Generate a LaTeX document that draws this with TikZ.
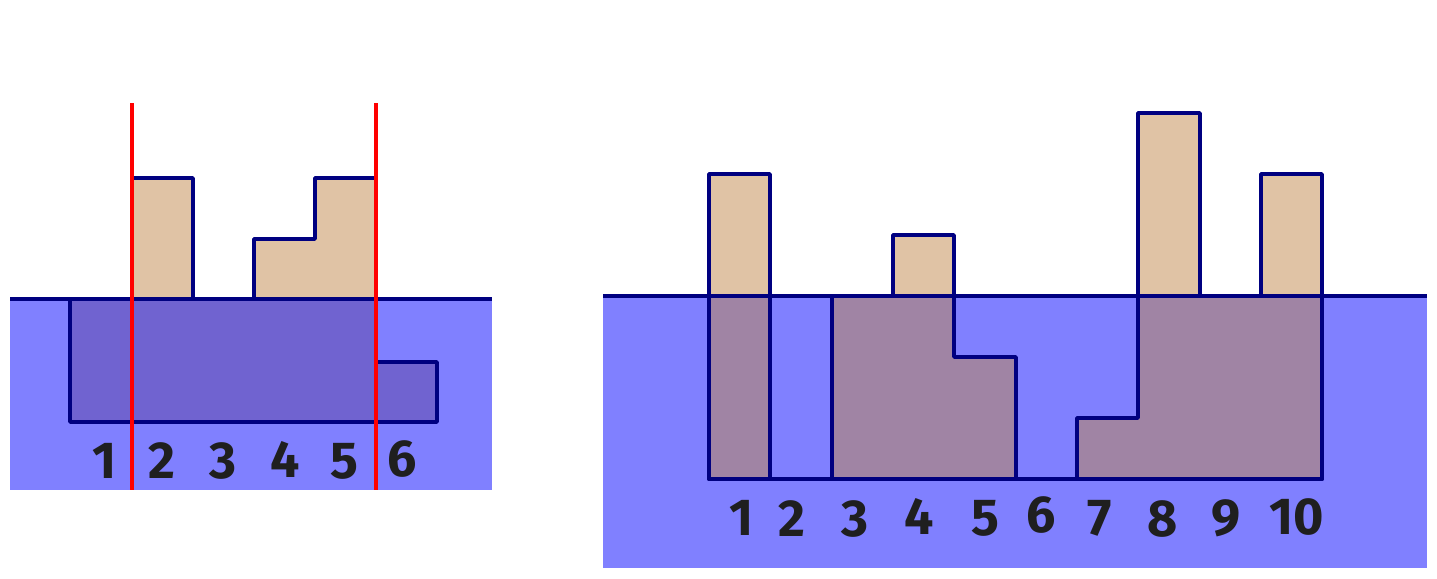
\documentclass[tikz,border=0pt]{standalone}
\usepackage{fontspec}
\newfontfamily\digitfont{Fira Sans}
\definecolor{water}{HTML}{8080FF}
\definecolor{tan}{HTML}{E0C3A5}
\definecolor{subA}{HTML}{7063D0}
\definecolor{subB}{HTML}{A084A4}
\definecolor{edge}{HTML}{000080}
\tikzset{
  outline/.style={draw=edge,line width=1.9pt,line join=round,line cap=round},
  waterline/.style={draw=edge,line width=1.9pt,line cap=butt},
  redline/.style={draw=red,line width=1.6pt},
  digit/.style={font=\digitfont\bfseries\fontsize{26}{26}\selectfont,text=black!88,inner sep=0pt}
}
\begin{document}
\begin{tikzpicture}[x={(0.5pt,0)},y={(0,-0.5pt)}]
\useasboundingbox (0,0) rectangle (1437,579);
% ---------- left figure ----------
\fill[water] (10,299) rectangle (492,490);
\fill[tan] (132,178) rectangle (193,299);
\fill[tan] (254,299) -- (254,239) -- (315,239) -- (315,178) -- (376,178) -- (376,299) -- cycle;
\fill[subA] (70,299) -- (376,299) -- (376,362) -- (437,362) -- (437,422) -- (70,422) -- cycle;
\draw[waterline] (10,299) -- (492,299);
\draw[outline] (132,178) -- (193,178) -- (193,299);
\draw[outline] (254,299) -- (254,239) -- (315,239) -- (315,178) -- (376,178);
\draw[outline] (70,299) -- (70,422) -- (437,422) -- (437,362) -- (376,362);
\draw[redline] (132,103) -- (132,490);
\draw[redline] (376,103) -- (376,490);
\node[digit] (l1) at (105,461) {1};
\node[digit] (l2) at (162,461) {2};
\node[digit] (l3) at (223,461) {3};
\node[digit] (l4) at (285,459) {4};
\node[digit] (l5) at (344,461) {5};
\node[digit] (l6) at (402,459) {6};
% ---------- right figure ----------
\fill[water] (603,296) rectangle (1427,568);
\fill[tan] (709,174) rectangle (770,296);
\fill[tan] (893,235) rectangle (954,296);
\fill[tan] (1138,113) rectangle (1200,296);
\fill[tan] (1261,174) rectangle (1322,296);
\fill[subB] (709,296) rectangle (770,479);
\fill[subB] (832,296) -- (954,296) -- (954,357) -- (1016,357) -- (1016,479) -- (832,479) -- cycle;
\fill[subB] (1077,479) -- (1077,418) -- (1138,418) -- (1138,296) -- (1322,296) -- (1322,479) -- cycle;
\draw[waterline] (603,296) -- (1427,296);
\draw[outline] (709,479) -- (709,174) -- (770,174) -- (770,479);
\draw[outline] (832,296) -- (832,479);
\draw[outline] (893,296) -- (893,235) -- (954,235) -- (954,357) -- (1016,357) -- (1016,479);
\draw[outline] (1077,479) -- (1077,418) -- (1138,418) -- (1138,113) -- (1200,113) -- (1200,296);
\draw[outline] (1261,296) -- (1261,174) -- (1322,174) -- (1322,479);
\draw[outline] (709,479) -- (1322,479);
\node[digit] (r1) at (742,518) {1};
\node[digit] (r2) at (792,519) {2};
\node[digit] (r3) at (855,519) {3};
\node[digit] (r4) at (919,516) {4};
\node[digit] (r5) at (985,518) {5};
\node[digit] (r6) at (1041,515) {6};
\node[digit] (r7) at (1100,518) {7};
\node[digit] (r8) at (1163,519) {8};
\node[digit] (r9) at (1226,518) {9};
\node[digit] (r10) at (1297,517) {10};
\end{tikzpicture}
\end{document}
